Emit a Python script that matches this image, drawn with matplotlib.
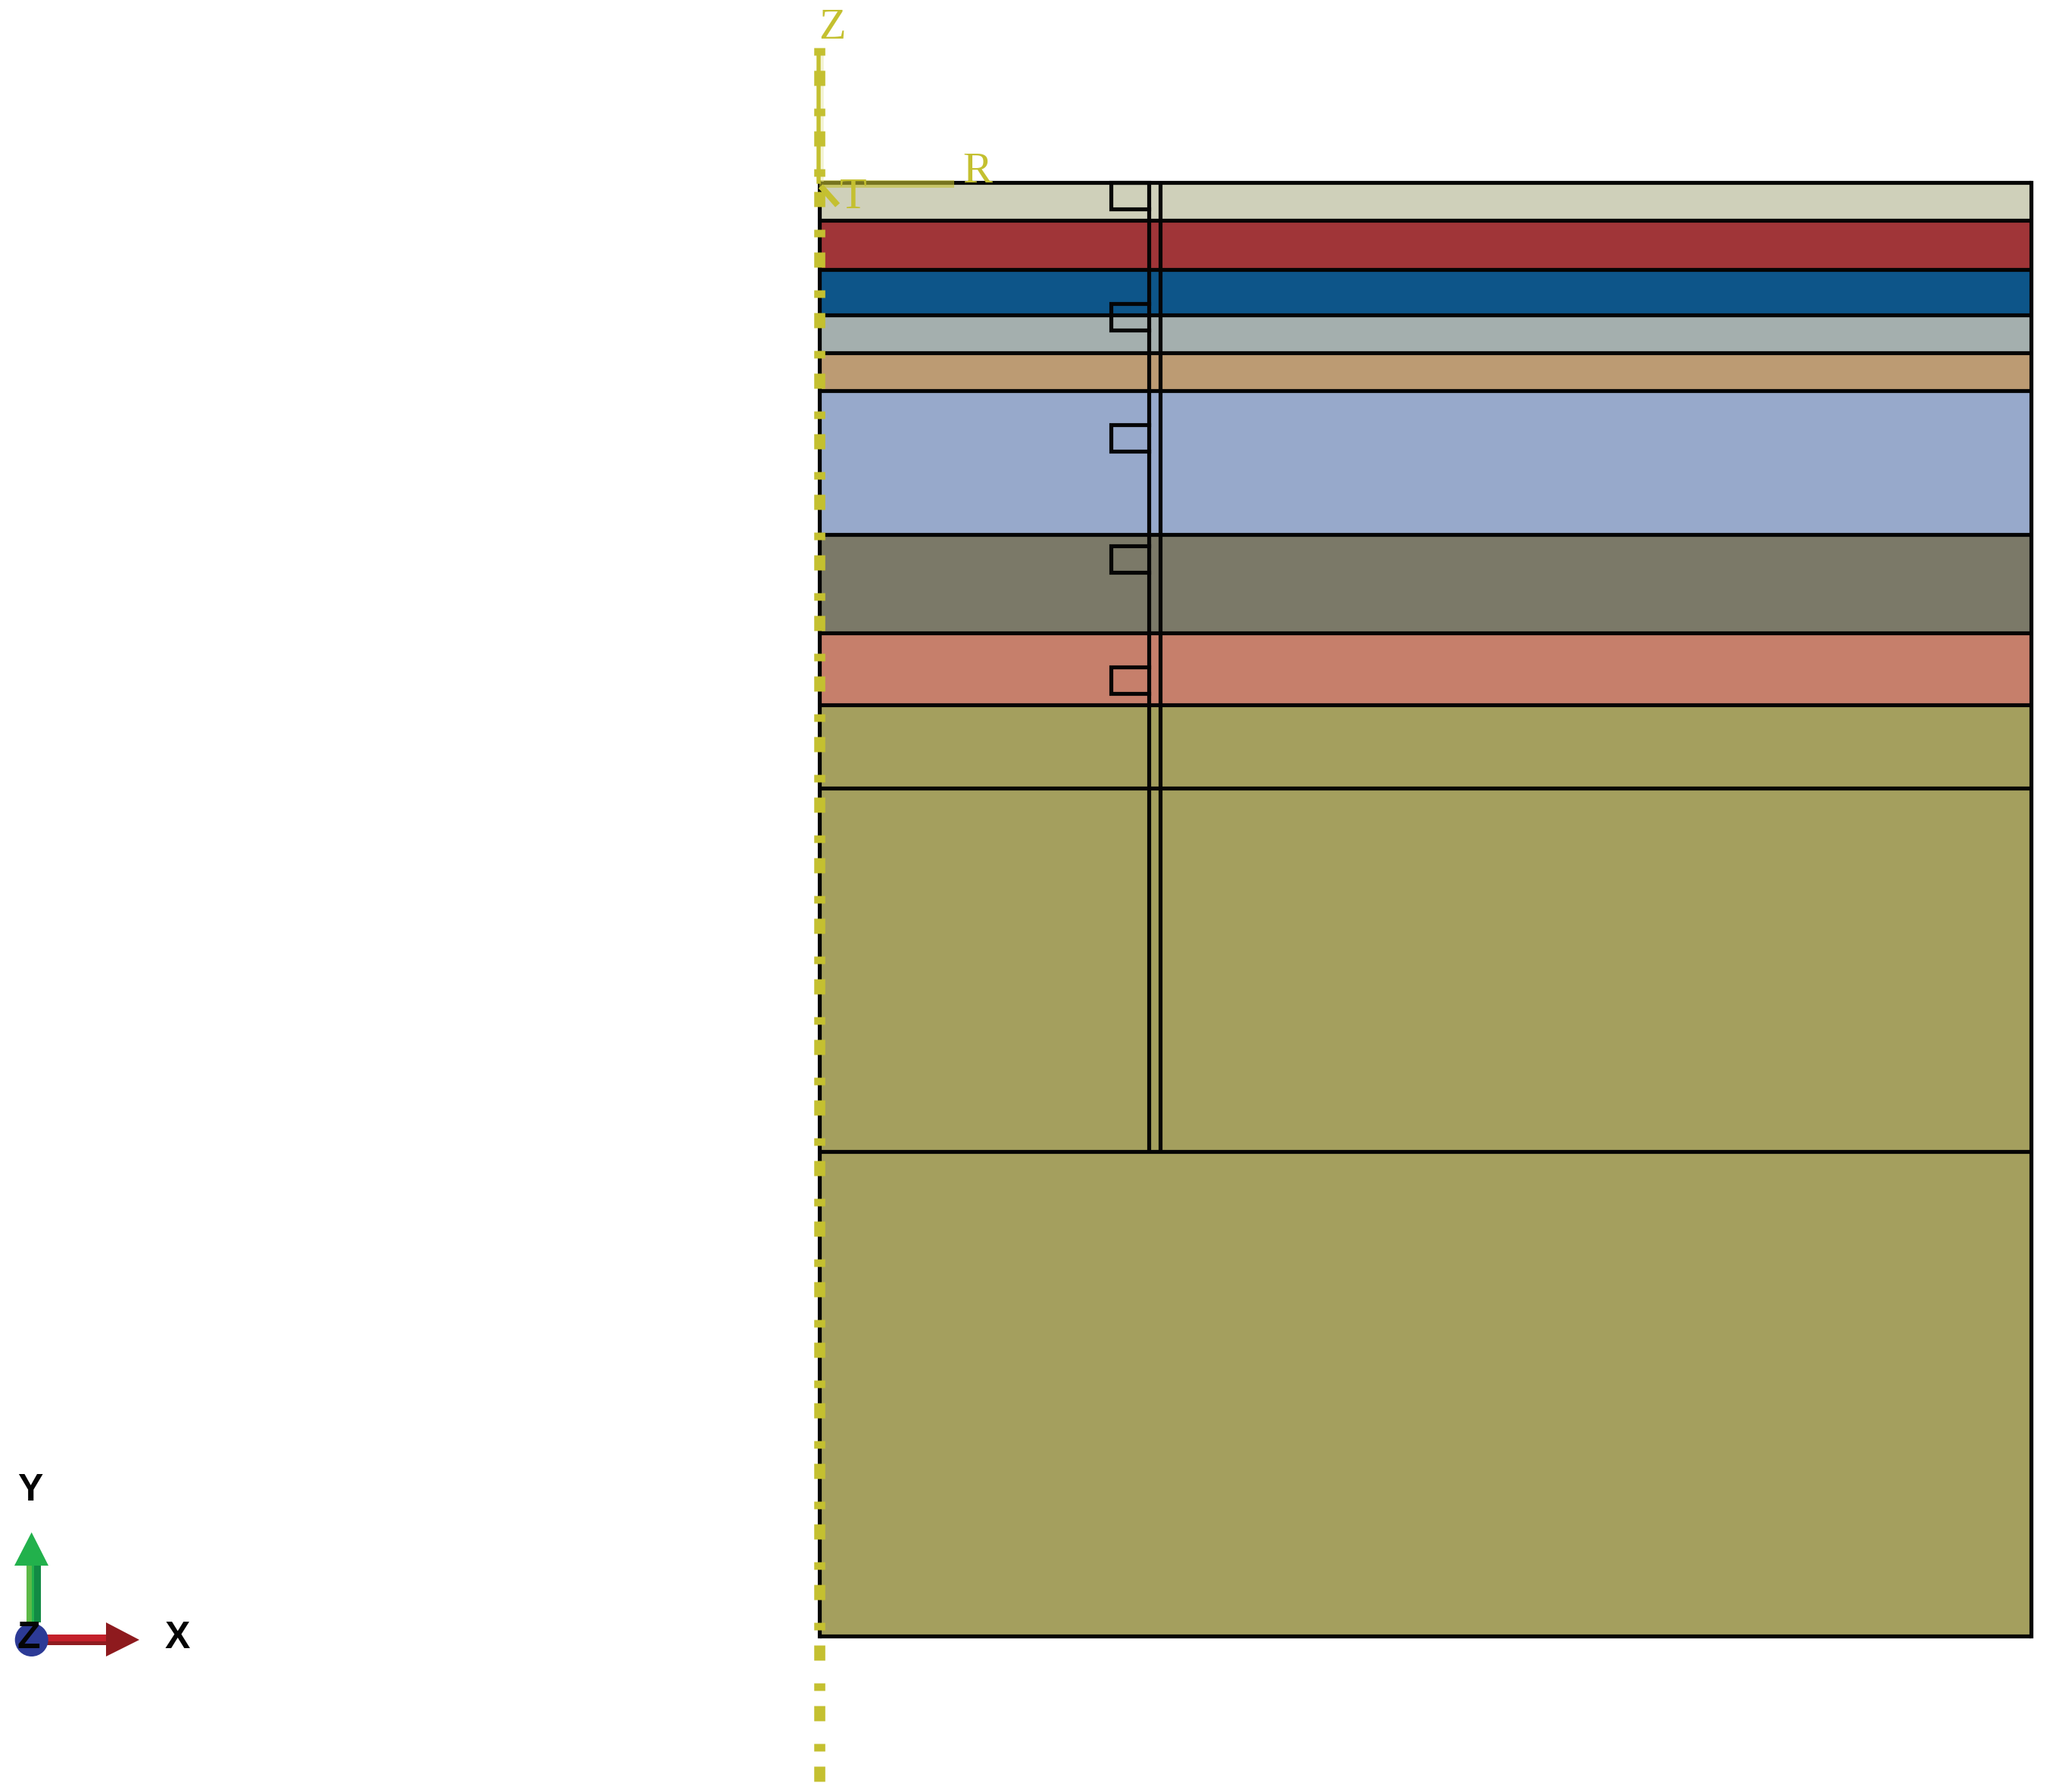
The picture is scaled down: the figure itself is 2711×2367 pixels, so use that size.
import numpy as np
import matplotlib
matplotlib.use("Agg")
import matplotlib.pyplot as plt
from matplotlib.patches import Circle, Polygon, Rectangle

# section of the layered model, in screen pixels of the viewport
layer_bounds = [240.7, 291, 356, 416, 466, 516, 706, 836, 931, 1041, 1521, 2161]
layer_colors = ["#CFD0BA", "#A03538", "#0D5589", "#A4AFAE", "#BC9B73", "#97A9CB",
                "#7B7968", "#C67F6B", "#A49F5E", "#A49F5E", "#A49F5E"]
x_axis = 1081.8
x_right = 2681.8
shaft_x = [1517, 1532]
shaft_bottom = 1521
notch_left = 1467
notch_tops = [240.7, 400.7, 560.7, 720.7, 880.7]
notch_bottoms = [275.7, 435.7, 595.7, 755.7, 915.7]

datum_color = "#C4C030"
dash_pattern_px = [10, 20, 20, 30]
dash_span = [63, 2358]
r_end = 1260

px = 0.72  # px -> pt at dpi=100
line_w = 5.2 * px

plt.rcParams["lines.scale_dashes"] = False

fig = plt.figure(figsize=(27.11, 23.67), dpi=100)
ax = fig.add_axes([0, 0, 1, 1])
ax.set_xlim(0, 2711)
ax.set_ylim(2367, 0)
ax.axis("off")

# layers
tops = np.array(layer_bounds[:-1])
heights = np.diff(layer_bounds)
ax.barh(tops, x_right - x_axis, height=heights, left=x_axis, align="edge",
        color=layer_colors, linewidth=0, zorder=1)

# part outlines
ax.hlines(layer_bounds, x_axis, x_right, color="#050505", lw=line_w, zorder=2)
ax.vlines([x_axis, x_right], layer_bounds[0], layer_bounds[-1], color="#050505",
          lw=line_w, zorder=2, capstyle="projecting")
ax.vlines(shaft_x, layer_bounds[0], shaft_bottom, color="#050505", lw=line_w, zorder=2)
for top, bot in zip(notch_tops, notch_bottoms):
    ax.plot([shaft_x[0], notch_left, notch_left, shaft_x[0]], [top, top, bot, bot],
            color="#050505", lw=line_w, zorder=2, solid_joinstyle="miter")

# symmetry axis, dash-dot yellow
ax.plot([x_axis, x_axis], dash_span, color=datum_color, lw=14.6 * px, zorder=4,
        dash_capstyle="butt", linestyle=(0, [v * px for v in dash_pattern_px]))
ax.plot([x_axis + 4.5, x_axis + 4.5], [68, 238], color="#F3F3D2", lw=3.5 * px, zorder=3)
ax.plot([x_axis - 0.5, x_axis - 0.5], [68, 240], color=datum_color, lw=5.5 * px, zorder=4)

# R and T datum axes
ax.plot([x_axis, r_end], [243, 243], color=datum_color, lw=10 * px, alpha=0.6,
        zorder=4, solid_capstyle="butt")
ax.plot([x_axis + 2, 1106], [246, 271], color=datum_color, lw=8 * px, zorder=4,
        solid_capstyle="butt")

serif = dict(family="Liberation Serif", color=datum_color, zorder=5, ha="center",
             va="center", fontsize=42)
ax.text(1099.5, 37, "Z", **serif)
ax.text(1291, 227, "R", **serif)
ax.text(1127, 261, "T", **serif)

# triad
green_bands = [(35, 42, "#5CB947"), (42, 45, "#22B14C"), (45, 54, "#128A44")]
for x0, x1, c in green_bands:
    ax.add_patch(Rectangle((x0, 2068), x1 - x0, 75, color=c, lw=0, zorder=3))
ax.add_patch(Polygon([(19, 2068), (41.7, 2024), (64, 2068)], color="#22B14C", lw=0, zorder=3))
ax.add_patch(Rectangle((55, 2159), 85, 9, color="#C4202A", lw=0, zorder=3))
ax.add_patch(Rectangle((55, 2168), 85, 5, color="#8F1C20", lw=0, zorder=3))
ax.add_patch(Polygon([(140, 2143), (184, 2166), (140, 2188)], color="#8E1A1E", lw=0, zorder=3))
ax.add_patch(Circle((41.7, 2166), 22, color="#2C3A96", lw=0, zorder=4))

bold = dict(family="Liberation Sans", weight="bold", color="#050505", zorder=5,
            ha="center", va="center", fontsize=36)
ax.text(39.5, 1969, "Y", **bold)
ax.text(234.5, 2164, "X", **bold)
ax.text(37.5, 2164, "Z", **bold)

fig.savefig("out.png", dpi=100)
